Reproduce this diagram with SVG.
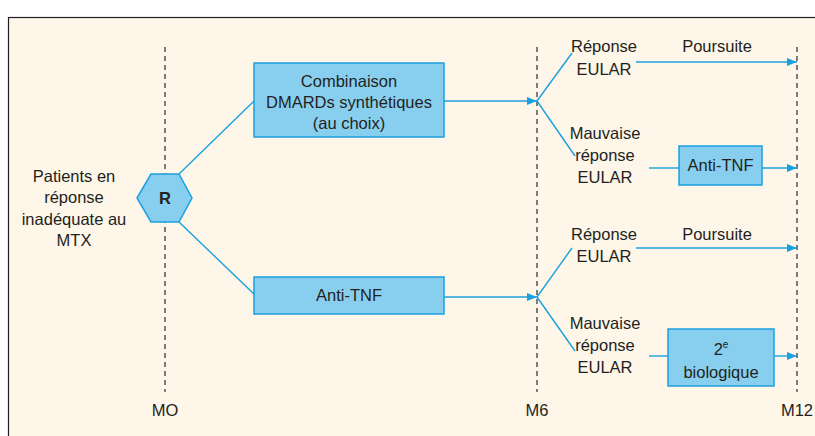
<svg xmlns="http://www.w3.org/2000/svg" width="815" height="436" viewBox="0 0 815 436">
<defs>
<style>
text{font-family:"Liberation Sans",Arial,sans-serif;font-size:16.5px;fill:#231F20;text-anchor:middle}
.box{fill:#88CFEF;stroke:#1BA1DF;stroke-width:1.5}
.ln{stroke:#1BA1DF;stroke-width:1.4;fill:none}
.dash{stroke:#3a3a3a;stroke-width:1.3;stroke-dasharray:5 4;fill:none}
</style>
<marker id="ah" viewBox="0 0 10 8" refX="10" refY="4" markerWidth="10" markerHeight="8" markerUnits="userSpaceOnUse" orient="auto">
<path d="M0,0 L10,4 L0,8 Z" fill="#1BA1DF"/>
</marker>
</defs>
<rect x="0" y="0" width="815" height="436" fill="#ffffff"/>
<rect x="8.5" y="17.5" width="820" height="430" fill="#FDF6E9" stroke="#231F20" stroke-width="1.2"/>
<g id="timeline">
<line class="dash" x1="165" y1="47" x2="165" y2="392"/>
<line class="dash" x1="537" y1="47" x2="537" y2="392"/>
<line class="dash" x1="797" y1="47" x2="797" y2="392"/>
<text x="165" y="416">MO</text>
<text x="537" y="416">M6</text>
<text x="797" y="416">M12</text>
</g>
<g id="connectors">
<line class="ln" x1="179" y1="174" x2="254" y2="101"/>
<line class="ln" x1="179" y1="222" x2="254" y2="294"/>
<line class="ln" x1="444" y1="101" x2="537" y2="101" marker-end="url(#ah)"/>
<line class="ln" x1="444" y1="297" x2="537" y2="297" marker-end="url(#ah)"/>
<line class="ln" x1="537" y1="101" x2="572" y2="53"/>
<line class="ln" x1="537" y1="101" x2="575" y2="156"/>
<line class="ln" x1="537" y1="297" x2="572" y2="248"/>
<line class="ln" x1="537" y1="297" x2="575" y2="351"/>
<line class="ln" x1="636" y1="62" x2="797" y2="62" marker-end="url(#ah)"/>
<line class="ln" x1="649" y1="168" x2="679" y2="168"/>
<line class="ln" x1="762" y1="168" x2="797" y2="168" marker-end="url(#ah)"/>
<line class="ln" x1="636" y1="248" x2="797" y2="248" marker-end="url(#ah)"/>
<line class="ln" x1="649" y1="356" x2="668" y2="356"/>
<line class="ln" x1="774" y1="356" x2="797" y2="356" marker-end="url(#ah)"/>
</g>
<g id="patients">
<text x="74" y="182">Patients en</text>
<text x="74" y="203">réponse</text>
<text x="74" y="225">inadéquate au</text>
<text x="74" y="246">MTX</text>
</g>
<g id="R">
<polygon class="box" points="137,198 151,174 179,174 192,198 179,222 151,222"/>
<text x="165" y="204" style="font-weight:bold">R</text>
</g>
<g id="combinaison">
<rect class="box" x="254" y="63" width="190" height="74"/>
<text x="349" y="87">Combinaison</text>
<text x="349" y="108">DMARDs synthétiques</text>
<text x="349" y="129">(au choix)</text>
</g>
<g id="antitnf1">
<rect class="box" x="254" y="277" width="190" height="37"/>
<text x="349" y="301">Anti-TNF</text>
</g>
<g id="reponse1">
<text x="604" y="52">Réponse</text>
<text x="604" y="75">EULAR</text>
</g>
<g id="poursuite1"><text x="717" y="52">Poursuite</text></g>
<g id="mauvaise1">
<text x="605" y="139">Mauvaise</text>
<text x="605" y="161">réponse</text>
<text x="605" y="183">EULAR</text>
</g>
<g id="antitnf2">
<rect class="box" x="679" y="146" width="83" height="39"/>
<text x="720.5" y="171">Anti-TNF</text>
</g>
<g id="reponse2">
<text x="604" y="240">Réponse</text>
<text x="604" y="262">EULAR</text>
</g>
<g id="poursuite2"><text x="717" y="240">Poursuite</text></g>
<g id="mauvaise2">
<text x="605" y="329">Mauvaise</text>
<text x="605" y="351">réponse</text>
<text x="605" y="373">EULAR</text>
</g>
<g id="biologique">
<rect class="box" x="668" y="329" width="106" height="57"/>
<text x="721" y="355">2<tspan dy="-7" style="font-size:10px">e</tspan></text>
<text x="721" y="378">biologique</text>
</g>
</svg>
